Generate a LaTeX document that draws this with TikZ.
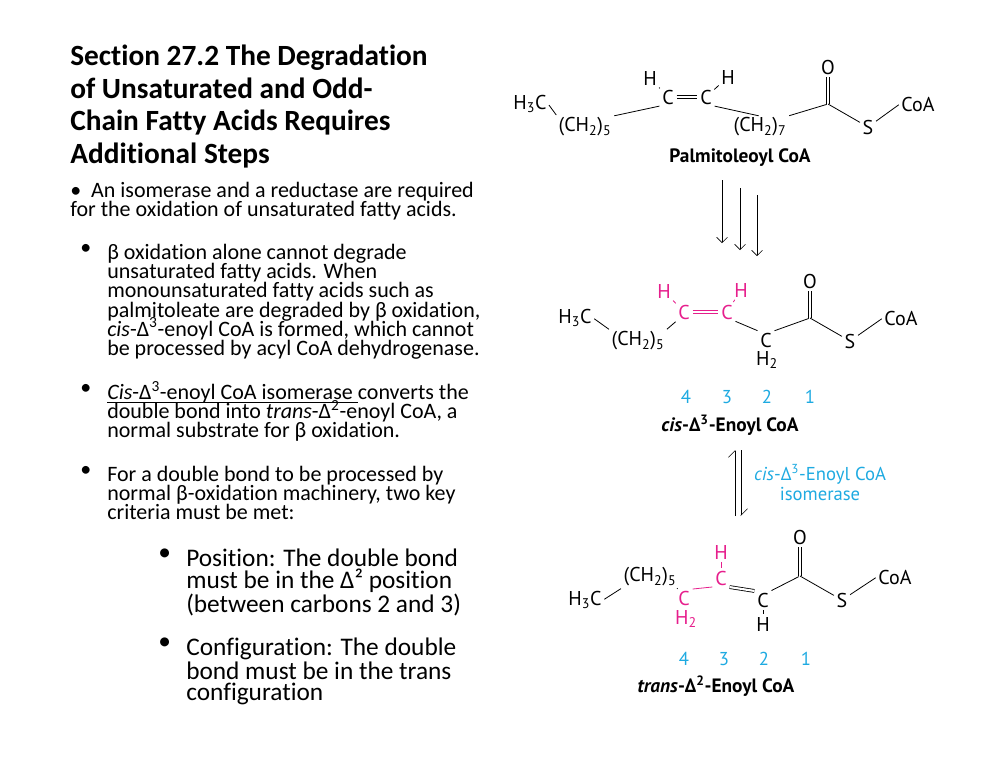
\documentclass[tikz,border=0pt]{standalone}
\usepackage{fontspec}
\setmainfont{Carlito}[Ligatures={NoCommon}]
\newfontfamily\chemfont{PT Sans}
\usepackage{tikz}
\usetikzlibrary{arrows.meta, positioning, calc}
\definecolor{pinkc}{RGB}{230,30,140}
\definecolor{cyanc}{RGB}{30,170,225}
\newcommand{\sub}[1]{\textsubscript{#1}}
\newcommand{\sups}[1]{\smash{\textsuperscript{#1}}}
\newcommand{\uline}[1]{{\setbox0\hbox{#1}\rlap{\rule[-2.2pt]{\wd0}{0.5pt}}\box0}}

\begin{document}
\begin{tikzpicture}[
  x=0.75pt, y=-0.75pt,
  atom/.style = {inner sep=1pt, font=\chemfont\fontsize{15}{16}\selectfont},
  hot/.style = {atom, text=pinkc},
  bond/.style = {line width=0.6pt, shorten <=1pt, shorten >=1pt},
  dbond/.style = {bond, double, double distance=1.6pt},
  num/.style = {font=\chemfont\fontsize{14}{15}\selectfont, text=cyanc},
  molname/.style = {font=\chemfont\bfseries\fontsize{14.5}{15}\selectfont},
  title/.style = {anchor=north west, align=left, inner sep=0pt, font=\bfseries\fontsize{22}{24.3}\selectfont},
  para/.style = {anchor=north west, align=left, inner sep=0pt, font=\fontsize{16.5}{14.4}\selectfont},
  bigpara/.style = {anchor=north west, align=left, inner sep=0pt, font=\fontsize{19}{16.2}\selectfont},
  cycle/.style = {thin, -{Straight Barb[length=4pt]}},
  every node/.style = {font=\chemfont}
]
\useasboundingbox (0,0) rectangle (990,765);

% Text column
\node[title] (head) at (70,45) {Section 27.2 The Degradation\\of Unsaturated and Odd-\\Chain Fatty Acids Requires\\Additional Steps};
\node[para] (p0) at (70,182) {\textbullet\ \ An isomerase and a reductase are required\\for the oxidation of unsaturated fatty acids.};
\node[para] (b1) at (80,244) {\textbullet};
\node[para] (p1) at (107,244) {β oxidation alone cannot degrade\\unsaturated fatty acids. When\\monounsaturated fatty acids such as\\palmitoleate are degraded by β oxidation,\\\textit{cis}-Δ\sups{3}-enoyl CoA is formed, which cannot\\be processed by acyl CoA dehydrogenase.};
\node[para] (b2) at (80,384) {\textbullet};
\node[para] (p2) at (107,384) {\uline{\textit{Cis}-Δ\sups{3}-enoyl CoA isomerase }converts the\\double bond into \textit{trans}-Δ\sups{2}-enoyl CoA, a\\normal substrate for β oxidation.};
\node[para] (b3) at (80,466) {\textbullet};
\node[para] (p3) at (107,466) {For a double bond to be processed by\\normal β-oxidation machinery, two key\\criteria must be met:};
\node[bigpara] (b4) at (158,549) {\textbullet};
\node[bigpara] (p4) at (186,549) {Position: The double bond\\must be in the Δ² position\\(between carbons 2 and 3)};
\node[bigpara] (b5) at (158,638) {\textbullet};
\node[bigpara] (p5) at (186,638) {Configuration: The double\\bond must be in the trans\\configuration};

% Palmitoleoyl CoA
\node[atom] (aMe) at (530,104) {H\sub{3}C};
\node[atom] (aCa) at (585,127) {(CH\sub{2})\sub{5}};
\node[atom] (aC1) at (668,97) {C};
\node[atom] (aC2) at (706,97) {C};
\node[atom] (aH1) at (650,78) {H};
\node[atom] (aH2) at (728,77) {H};
\node[atom] (aCb) at (760,127) {(CH\sub{2})\sub{7}};
\coordinate (aCO) at (828,104);
\node[atom] (aO) at (828,67) {O};
\node[atom] (aS) at (868,127) {S};
\node[atom] (aCoA) at (918,104) {CoA};
\draw[bond] (aMe.east) -- (aCa.north west);
\draw[bond] (aCa.north east) -- (aC1.south west);
\draw[dbond] (aC1) -- (aC2);
\draw[bond] (aH1) -- (aC1);
\draw[bond] (aH2) -- (aC2);
\draw[bond] (aC2.south east) -- (aCb.north);
\draw[bond] (aCb.north east) -- (aCO);
\draw[dbond, shorten >=0pt] (aO) -- (aCO);
\draw[bond, shorten <=0pt] (aCO) -- (aS);
\draw[bond] (aS) -- (aCoA.west);
\node[molname] (aName) at (740,158) {Palmitoleoyl CoA};

% several cycles of beta oxidation
\coordinate (s1) at (722,180); \coordinate (t1) at (722,243);
\coordinate (s2) at (740,188); \coordinate (t2) at (740,250);
\coordinate (s3) at (757,195); \coordinate (t3) at (757,256);
\foreach \i in {1,2,3} \draw[cycle] (s\i) -- (t\i);

% cis-Delta3-enoyl CoA
\node[atom] (bMe) at (575,318) {H\sub{3}C};
\node[atom] (bCa) at (638,341) {(CH\sub{2})\sub{5}};
\node[hot] (bC4) at (684,312) {C};
\node[hot] (bC3) at (727,312) {C};
\node[hot] (bH4) at (664,291) {H};
\node[hot] (bH3) at (741,290) {H};
\node[atom] (bC2) at (766,340) {C};
\node[atom] (bH2) at (767,360) {H\sub{2}};
\coordinate (bCO) at (810,318);
\node[atom] (bO) at (810,281) {O};
\node[atom] (bS) at (850,341) {S};
\node[atom] (bCoA) at (901,318) {CoA};
\draw[bond] (bMe.east) -- (bCa.north west);
\draw[bond] (bCa.north east) -- (bC4.south west);
\draw[dbond, pinkc] (bC4) -- (bC3);
\draw[bond, pinkc] (bH4) -- (bC4);
\draw[bond, pinkc] (bH3) -- (bC3);
\draw[bond] (bC3.south east) -- (bC2.north west);
\draw[bond] (bC2.north east) -- (bCO);
\draw[dbond, shorten >=0pt] (bO) -- (bCO);
\draw[bond, shorten <=0pt] (bCO) -- (bS);
\draw[bond] (bS) -- (bCoA.west);
\foreach \n/\x in {4/686,3/727,2/767,1/810} \node[num] (bn\n) at (\x,397) {\n};
\node[molname] (bName) at (730,427) {\textit{cis}-Δ\sups{3}-Enoyl CoA};

% isomerase equilibrium
\coordinate (eqA) at (735,516); \coordinate (eqB) at (735,450);
\coordinate (eqC) at (741,450); \coordinate (eqD) at (741,516);
\draw[thin, -{Straight Barb[left, length=5pt]}] (eqA) -- (eqB);
\draw[thin, -{Straight Barb[left, length=5pt]}] (eqC) -- (eqD);
\node[num, align=center, font=\chemfont\fontsize{14}{15}\selectfont] (enz) at (820,484) {\textit{cis}-Δ\sups{3}-Enoyl CoA\\isomerase};

% trans-Delta2-enoyl CoA
\node[atom] (cMe) at (585,600) {H\sub{3}C};
\node[atom] (cCa) at (650,577) {(CH\sub{2})\sub{5}};
\node[hot] (cC4) at (684,598) {C};
\node[hot] (cH4) at (686,619) {H\sub{2}};
\node[hot] (cC3) at (721,578) {C};
\node[hot] (cH3) at (721,552) {H};
\node[atom] (cC2) at (763,600) {C};
\node[atom] (cH2) at (763,624) {H};
\coordinate (cCO) at (800,576);
\node[atom] (cO) at (800,537) {O};
\node[atom] (cS) at (842,600) {S};
\node[atom] (cCoA) at (895,577) {CoA};
\draw[bond] (cMe.east) -- (cCa.south west);
\draw[bond] (cCa.south east) -- (cC4.north west);
\draw[bond, pinkc] (cC4.north east) -- (cC3.south west);
\draw[bond, pinkc] (cH3) -- (cC3);
\draw[dbond] (cC3.south east) -- (cC2.north west);
\draw[bond] (cC2) -- (cH2);
\draw[bond] (cC2.north east) -- (cCO);
\draw[dbond, shorten >=0pt] (cO) -- (cCO);
\draw[bond, shorten <=0pt] (cCO) -- (cS);
\draw[bond] (cS) -- (cCoA.west);
\foreach \n/\x in {4/684,3/724,2/764,1/806} \node[num] (cn\n) at (\x,659) {\n};
\node[molname] (cName) at (716,688) {\textit{trans}-Δ\sups{2}-Enoyl CoA};
\end{tikzpicture}
\end{document}
